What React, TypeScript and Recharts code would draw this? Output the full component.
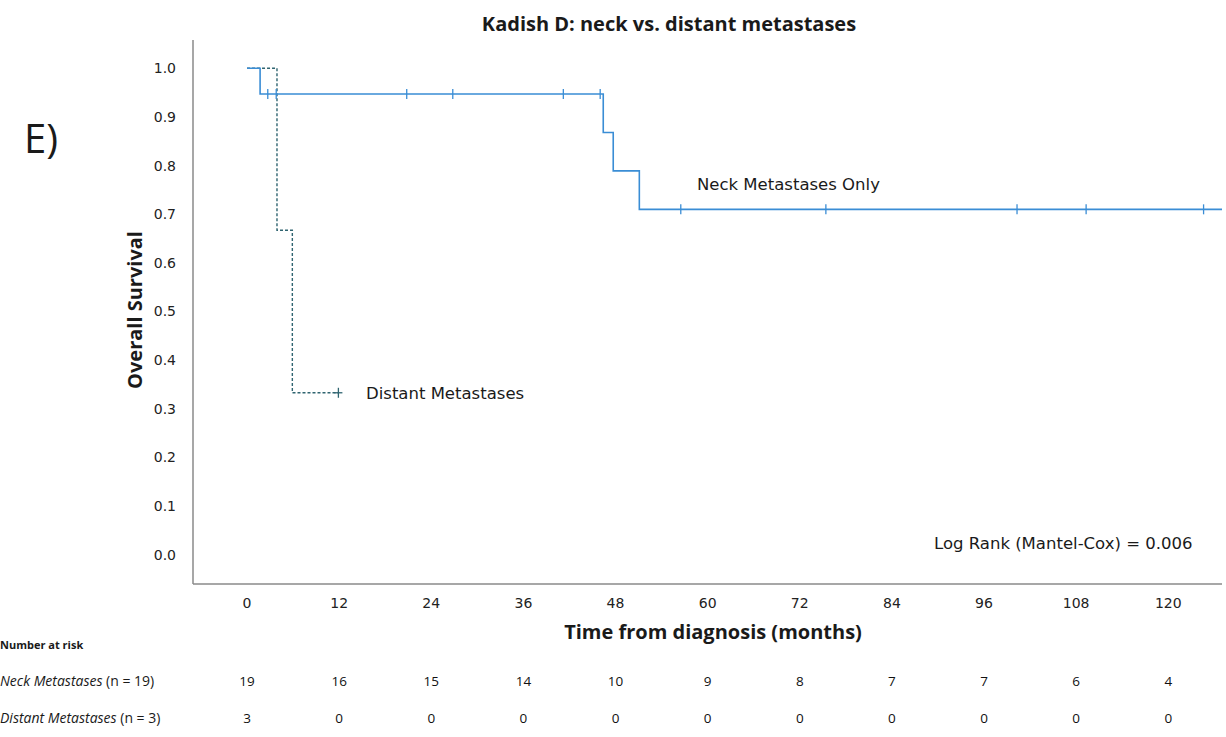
import {
  ComposedChart,
  Line,
  Scatter,
  XAxis,
  YAxis,
} from "recharts";

// months on the x axis and the at-risk table below it
const tickMonths = [0, 12, 24, 36, 48, 60, 72, 84, 96, 108, 120];
const survivalTicks = [0, 0.1, 0.2, 0.3, 0.4, 0.5, 0.6, 0.7, 0.8, 0.9, 1.0];
const neckAtRisk = [19, 16, 15, 14, 10, 9, 8, 7, 7, 6, 4];
const distantAtRisk = [3, 0, 0, 0, 0, 0, 0, 0, 0, 0, 0];

// Kaplan-Meier steps (time in months, survival)
const neckSteps = [
  { t: 0, s: 1.0 },
  { t: 1.7, s: 0.947 },
  { t: 46.4, s: 0.868 },
  { t: 47.7, s: 0.789 },
  { t: 51.1, s: 0.71 },
  { t: 127, s: 0.71 },
];
const neckCensored = [
  { t: 2.7, s: 0.947 },
  { t: 3.8, s: 0.947 },
  { t: 20.8, s: 0.947 },
  { t: 26.8, s: 0.947 },
  { t: 41.2, s: 0.947 },
  { t: 46.0, s: 0.947 },
  { t: 56.5, s: 0.71 },
  { t: 75.4, s: 0.71 },
  { t: 100.3, s: 0.71 },
  { t: 109.3, s: 0.71 },
  { t: 124.6, s: 0.71 },
];
const distantSteps = [
  { t: 0, s: 1.0 },
  { t: 3.9, s: 0.667 },
  { t: 5.9, s: 0.333 },
  { t: 11.9, s: 0.333 },
];
const distantCensored = [{ t: 11.9, s: 0.333 }];

const NECK = "#3a8dd5";
const DISTANT = "#2f6470";
const AXIS = "#8a8a8a";
const X_DOMAIN: [number, number] = [-7.04, 127];

const tickFont = { fontFamily: "DejaVu Sans", fontSize: 14, fill: "#222" };
const riskFont = { fontFamily: "Open Sans", fontSize: 13.5, fill: "#111" };

const censorMark = (color: string, arm: number) => (props: any) => {
  const { cx, cy } = props;
  return (
    <g>
      <line x1={cx} x2={cx} y1={cy - 5} y2={cy + 5} stroke={color} strokeWidth={1.3} />
      {arm > 0 && (
        <line x1={cx - arm} x2={cx + arm} y1={cy} y2={cy} stroke={color} strokeWidth={1.3} />
      )}
    </g>
  );
};

const txt = (extra: React.CSSProperties): React.CSSProperties => ({
  position: "absolute",
  whiteSpace: "nowrap",
  lineHeight: 1,
  color: "#1a1a1a",
  ...extra,
});

const App = () => {
  return (
    <div
      style={{
        position: "absolute",
        left: 0,
        top: 0,
        width: 1226,
        height: 737,
        background: "#fff",
        overflow: "hidden",
      }}
    >
      <ComposedChart
        width={1226}
        height={737}
        margin={{ top: 40, right: 4, bottom: 16, left: 133 }}
      >
        <XAxis
          type="number"
          dataKey="t"
          domain={X_DOMAIN}
          ticks={tickMonths}
          allowDataOverflow
          tickLine={false}
          tickSize={0}
          tickMargin={14}
          height={60}
          tick={tickFont}
          axisLine={{ stroke: AXIS, strokeWidth: 1.5 }}
        />
        <XAxis
          xAxisId="risk1"
          type="number"
          dataKey="t"
          domain={X_DOMAIN}
          ticks={tickMonths}
          allowDataOverflow
          tickFormatter={(v: number) => String(neckAtRisk[tickMonths.indexOf(v)])}
          axisLine={false}
          tickLine={false}
          tickSize={0}
          tickMargin={32}
          height={37}
          tick={riskFont}
        />
        <XAxis
          xAxisId="risk2"
          type="number"
          dataKey="t"
          domain={X_DOMAIN}
          ticks={tickMonths}
          allowDataOverflow
          tickFormatter={(v: number) => String(distantAtRisk[tickMonths.indexOf(v)])}
          axisLine={false}
          tickLine={false}
          tickSize={0}
          tickMargin={32}
          height={40}
          tick={riskFont}
        />
        <YAxis
          type="number"
          domain={[-0.06, 1.058]}
          ticks={survivalTicks}
          allowDataOverflow
          tickFormatter={(v: number) => v.toFixed(1)}
          tickLine={false}
          tickSize={0}
          tickMargin={17}
          width={60}
          tick={tickFont}
          axisLine={{ stroke: AXIS, strokeWidth: 1.5 }}
        />
        <Line
          data={distantSteps}
          dataKey="s"
          type="stepAfter"
          stroke={DISTANT}
          strokeWidth={1.4}
          strokeDasharray="3 2"
          dot={false}
          isAnimationActive={false}
        />
        <Line
          data={neckSteps}
          dataKey="s"
          type="stepAfter"
          stroke={NECK}
          strokeWidth={1.6}
          dot={false}
          isAnimationActive={false}
        />
        <Scatter
          data={neckCensored}
          dataKey="s"
          shape={censorMark(NECK, 0)}
          isAnimationActive={false}
        />
        <Scatter
          data={distantCensored}
          dataKey="s"
          shape={censorMark(DISTANT, 4)}
          isAnimationActive={false}
        />
      </ComposedChart>

      <div style={txt({ left: 24, top: 118, fontFamily: "Open Sans", fontSize: 40 })}>E)</div>
      <div
        style={txt({
          left: 669,
          top: 14,
          transform: "translateX(-50%)",
          fontFamily: "Open Sans",
          fontWeight: 700,
          fontSize: 20,
        })}
      >
        Kadish D: neck vs. distant metastases
      </div>
      <div
        style={txt({
          left: 135,
          top: 310,
          transform: "translate(-50%, -50%) rotate(-90deg)",
          fontFamily: "Open Sans",
          fontWeight: 700,
          fontSize: 20,
        })}
      >
        Overall Survival
      </div>
      <div
        style={txt({
          left: 713,
          top: 622,
          transform: "translateX(-50%)",
          fontFamily: "Open Sans",
          fontWeight: 700,
          fontSize: 20,
        })}
      >
        Time from diagnosis (months)
      </div>
      <div style={txt({ left: 697, top: 177, fontFamily: "DejaVu Sans", fontSize: 16.5 })}>
        Neck Metastases Only
      </div>
      <div style={txt({ left: 366, top: 386, fontFamily: "DejaVu Sans", fontSize: 16.5 })}>
        Distant Metastases
      </div>
      <div style={txt({ left: 934, top: 536, fontFamily: "DejaVu Sans", fontSize: 16.5 })}>
        Log Rank (Mantel-Cox) = 0.006
      </div>
      <div style={txt({ left: 0, top: 639, fontFamily: "Open Sans", fontWeight: 700, fontSize: 11 })}>
        Number at risk
      </div>
      <div style={txt({ left: 0, top: 674, fontFamily: "Open Sans", fontSize: 14 })}>
        <i>Neck Metastases</i> (n = 19)
      </div>
      <div style={txt({ left: 0, top: 711, fontFamily: "Open Sans", fontSize: 14 })}>
        <i>Distant Metastases</i> (n = 3)
      </div>
    </div>
  );
};

export default App;
